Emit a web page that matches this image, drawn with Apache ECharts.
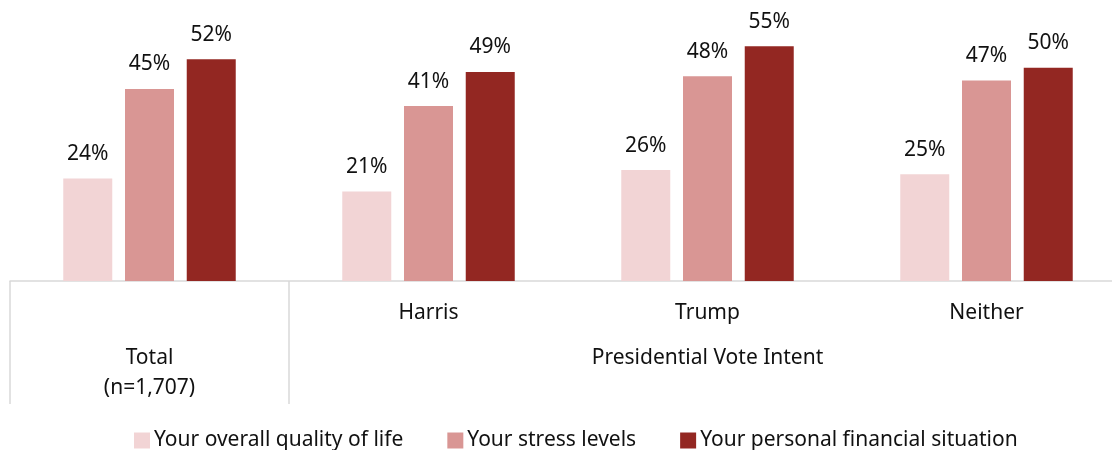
<!DOCTYPE html>
<html>
<head>
<meta charset="utf-8">
<script src="https://cdn.jsdelivr.net/npm/echarts@6/dist/echarts.min.js"></script>
<style>html,body{margin:0;padding:0;background:#fff}#c{width:1112px;height:450px}</style>
</head>
<body>
<div id="c"></div>
<script>
const categories = ['Total', 'Harris', 'Trump', 'Neither'];
const groupLabels = ['Total\n(n=1,707)', '', 'Presidential Vote Intent', ''];
const seriesNames = ['Your overall quality of life', 'Your stress levels', 'Your personal financial situation'];
const qualityOfLife = [24, 21, 26, 25];
const stressLevels = [45, 41, 48, 47];
const financialSituation = [52, 49, 55, 50];
const colors = ['#F2D4D5', '#D99694', '#932722'];

const font = '"Noto Sans", "Open Sans", sans-serif';
const chart = echarts.init(document.getElementById('c'), null, {renderer: 'canvas'});
const mk = (name, data, color) => ({
  name, type: 'bar', data, barWidth: 49, barGap: '26%',
  itemStyle: {color},
  label: {show: true, position: 'top', distance: 14, formatter: '{c}%',
    color: '#111', fontSize: 21, fontFamily: font},
  xAxisIndex: 0
});
chart.setOption({
  animation: false,
  grid: {left: 10, top: 25, right: -14, bottom: 169, containLabel: false, outerBoundsMode: 'none'},
  legend: {
    left: 129, top: 425, itemWidth: 16, itemHeight: 16, itemGap: 44,
    icon: 'rect', data: seriesNames,
    textStyle: {fontSize: 21, fontFamily: font, color: '#111', padding: [0, 0, 0, -1]}
  },
  xAxis: [{
    type: 'category', data: categories, position: 'bottom',
    axisLine: {show: true, lineStyle: {color: '#d9d9d9', width: 1.5}},
    axisTick: {show: true, length: 123, interval: (i) => i === 0 || i === 1,
      lineStyle: {color: '#d9d9d9', width: 1.5}},
    axisLabel: {margin: 21, fontSize: 21, lineHeight: 22, fontFamily: font, color: '#111',
      formatter: (v) => v === 'Total' ? '' : v}
  }, {
    type: 'category', data: groupLabels, position: 'bottom',
    axisLine: {show: false}, axisTick: {show: false},
    axisLabel: {margin: 62, fontSize: 21, lineHeight: 30, fontFamily: font, color: '#111', interval: 0}
  }],
  yAxis: {type: 'value', min: 0, max: 60, show: false, splitLine: {show: false}},
  series: [
    mk(seriesNames[0], qualityOfLife, colors[0]),
    mk(seriesNames[1], stressLevels, colors[1]),
    mk(seriesNames[2], financialSituation, colors[2])
  ]
});
</script>
</body>
</html>
